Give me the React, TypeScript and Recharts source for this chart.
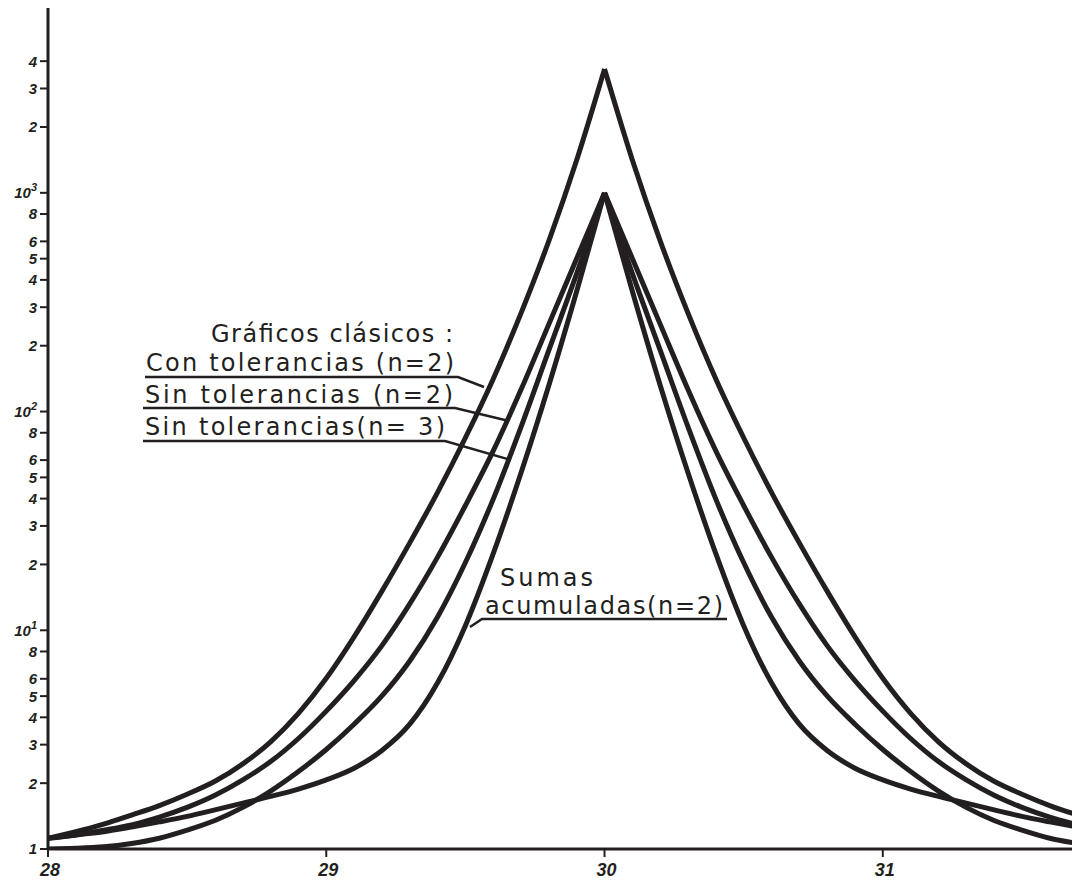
import React from "react";
import { LineChart, Line, XAxis, YAxis } from "recharts";

// x positions (abscissa of the original plot)
const xs = [
  28.0, 28.1, 28.2, 28.3, 28.4, 28.5, 28.6, 28.7, 28.8, 28.9, 29.0, 29.1, 29.2,
  29.3, 29.4, 29.5, 29.6, 29.7, 29.8, 29.9, 30.0, 30.1, 30.2, 30.3, 30.4, 30.5,
  30.6, 30.7, 30.8, 30.9, 31.0, 31.1, 31.2, 31.3, 31.4, 31.5, 31.6, 31.7,
];
const PEAK = 30;

// Gráficos clásicos: con tolerancias (n=2)
const conTol2 = [
  1.12, 1.2, 1.3, 1.43, 1.58, 1.78, 2.04, 2.45, 3.09, 4.17, 6.03, 9.33, 15.1,
  25.1, 42.7, 75.9, 141, 282, 603, 1413, 3680, 1413, 603, 282, 141, 75.9, 42.7,
  25.1, 15.1, 9.33, 6.03, 4.17, 3.09, 2.45, 2.04, 1.78, 1.58, 1.43,
];
// sin tolerancias (n=2)
const sinTol2 = [
  1.12, 1.16, 1.22, 1.29, 1.4, 1.55, 1.76, 2.07, 2.51, 3.2, 4.27, 5.89, 8.51,
  13.2, 21.6, 37.2, 66.1, 126, 251, 501, 1000, 501, 251, 126, 66.1, 37.2, 21.6,
  13.2, 8.51, 5.89, 4.27, 3.2, 2.51, 2.07, 1.76, 1.55, 1.4, 1.29,
];
// sin tolerancias (n=3)
const sinTol3 = [
  1.0, 1.007, 1.023, 1.06, 1.12, 1.22, 1.35, 1.55, 1.84, 2.26, 2.85, 3.72, 5.01,
  7.24, 11.5, 20.4, 39.8, 85.1, 191, 427, 1000, 427, 191, 85.1, 39.8, 20.4,
  11.5, 7.24, 5.01, 3.72, 2.85, 2.26, 1.84, 1.55, 1.35, 1.22, 1.12, 1.06,
];
// sumas acumuladas (n=2)
const sumas2 = [
  1.12, 1.16, 1.2, 1.26, 1.33, 1.41, 1.51, 1.62, 1.74, 1.88, 2.07, 2.34, 2.82,
  3.72, 5.75, 10.5, 22.4, 52.5, 132, 355, 1000, 355, 132, 52.5, 22.4, 10.5,
  5.75, 3.72, 2.82, 2.34, 2.07, 1.88, 1.74, 1.62, 1.51, 1.41, 1.33, 1.26,
];

const xTicks = [28, 29, 30, 31];
const yTicks = [
  1, 2, 3, 4, 5, 6, 8, 10, 20, 30, 40, 50, 60, 80, 100, 200, 300, 400, 500,
  600, 800, 1000, 2000, 3000, 4000,
];

const series = [
  { key: "a", values: conTol2 },
  { key: "b", values: sinTol2 },
  { key: "c", values: sinTol3 },
  { key: "d", values: sumas2 },
];

// each curve is split at the peak so the cusp stays sharp
const rows = xs.map((x, i) => {
  const r: any = { x };
  series.forEach((s) => {
    if (x <= PEAK) r[s.key + "L"] = s.values[i];
    if (x >= PEAK) r[s.key + "R"] = s.values[i];
  });
  return r;
});

const INK = "#231f20";
const tickFont = {
  fontFamily: "'Liberation Sans', Arial, sans-serif",
  fontWeight: 700,
  fontStyle: "italic",
  fill: INK,
};

function YTick(props: any) {
  const { x, y, payload } = props;
  const v = payload.value;
  const exp = Math.round(Math.log10(v));
  const isPow = exp > 0 && Math.abs(v - Math.pow(10, exp)) < 1e-6;
  const mant = Math.round(v / Math.pow(10, Math.floor(Math.log10(v) + 1e-9)));
  return (
    <text x={x} y={y} dy="0.36em" textAnchor="end" fontSize={15} {...tickFont}>
      {isPow ? (
        <>
          <tspan>10</tspan>
          <tspan dy={-7} fontSize={11}>
            {exp}
          </tspan>
        </>
      ) : (
        mant
      )}
    </text>
  );
}

function XTick(props: any) {
  const { x, y, payload } = props;
  return (
    <text x={x + 2} y={y} dy="0.85em" textAnchor="middle" fontSize={18} {...tickFont}>
      {payload.value}
    </text>
  );
}

const noteFont = {
  fontFamily: "'DejaVu Sans', sans-serif",
  fontSize: 24,
  fill: INK,
};

function Notes() {
  const ln = { stroke: INK, strokeWidth: 2.5, fill: "none" };
  return (
    <svg
      width={1072}
      height={887}
      style={{ position: "absolute", left: 0, top: 0, pointerEvents: "none" }}
    >
      <text x={211} y={342} textLength={242} lengthAdjust="spacing" {...noteFont}>
        Gráficos clásicos :
      </text>
      <text x={146} y={371} textLength={308} lengthAdjust="spacing" {...noteFont}>
        Con tolerancias (n=2)
      </text>
      <polyline points="145,377 458,377 484,387" {...ln} />
      <text x={145} y={403} textLength={308} lengthAdjust="spacing" {...noteFont}>
        Sin tolerancias (n=2)
      </text>
      <polyline points="143,408 455,408 509,421" {...ln} />
      <text x={145} y={435} textLength={300} lengthAdjust="spacing" {...noteFont}>
        Sin tolerancias(n= 3)
      </text>
      <polyline points="143,441 445,441 511,460" {...ln} />
      <text x={500} y={586} textLength={93} lengthAdjust="spacing" {...noteFont}>
        Sumas
      </text>
      <text x={485} y={614} textLength={238} lengthAdjust="spacing" {...noteFont}>
        acumuladas(n=2)
      </text>
      <polyline points="727,619 482,619 470,627" {...ln} />
    </svg>
  );
}

export default function App() {
  return (
    <div
      style={{
        position: "absolute",
        left: 0,
        top: 0,
        width: 1072,
        height: 887,
        background: "#fff",
      }}
    >
      <LineChart
        width={1072}
        height={887}
        data={rows}
        margin={{ top: 8, right: 0, bottom: 0, left: 0 }}
      >
        <XAxis
          dataKey="x"
          type="number"
          domain={[28, 31.68]}
          allowDataOverflow
          ticks={xTicks}
          interval={0}
          height={38}
          tickSize={8}
          tickMargin={4}
          axisLine={{ stroke: INK, strokeWidth: 3 }}
          tickLine={{ stroke: INK, strokeWidth: 2 }}
          tick={<XTick />}
        />
        <YAxis
          type="number"
          scale="log"
          domain={[1, 7000]}
          allowDataOverflow
          ticks={yTicks}
          interval={0}
          width={48}
          tickSize={8}
          tickMargin={3}
          axisLine={{ stroke: INK, strokeWidth: 3 }}
          tickLine={{ stroke: INK, strokeWidth: 2 }}
          tick={<YTick />}
        />
        {series.map((s) =>
          ["L", "R"].map((side) => (
            <Line
              key={s.key + side}
              dataKey={s.key + side}
              type="monotone"
              stroke={INK}
              strokeWidth={5}
              strokeLinejoin="round"
              dot={false}
              activeDot={false}
              isAnimationActive={false}
            />
          ))
        )}
      </LineChart>
      <Notes />
    </div>
  );
}
